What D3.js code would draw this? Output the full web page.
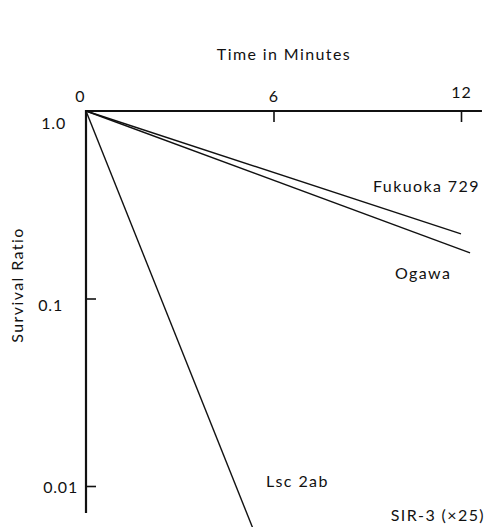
<!DOCTYPE html>
<meta charset="utf-8">
<style>
body { margin: 0; background: #fff; }
text { font-family: Lato, "Noto Sans", sans-serif; fill: #111; }
.axis path, .axis line { stroke: #111; }
.curve { fill: none; stroke: #111; stroke-width: 1.4px; }
</style>
<body>
<script src="https://cdn.jsdelivr.net/npm/d3@7"></script>
<script>
var width = 486, height = 527;

// survival data: time (min) vs survival ratio
var strains = ["Fukuoka 729", "Ogawa", "Lsc 2ab"];
var fukuoka = [[0, 1.0], [12.0, 0.221]];
var ogawa = [[0, 1.0], [12.29, 0.175]];
var lsc = [[0, 1.0], [5.33, 0.0060]];
var xTicks = [0, 6, 12];
var yTicks = [1.0, 0.1, 0.01];
var yTickLabels = ["1.0", "0.1", "0.01"];

var svg = d3.select("body").append("svg")
    .attr("width", width)
    .attr("height", height);

var x = d3.scaleLinear().domain([0, 12]).range([86, 461]);
var y = d3.scaleLog().domain([1, 0.01]).range([111, 486]);

var fs = 16, ls = 1.4;

// top axis (time)
var xAxis = svg.append("g")
    .attr("class", "axis")
    .attr("transform", "translate(0," + y(1) + ")")
    .call(d3.axisTop(x).tickValues(xTicks).tickSize(-11).tickPadding(9).tickSizeOuter(0)
      .tickFormat(d3.format("d")));
xAxis.select(".domain").remove();
xAxis.selectAll(".tick line").attr("stroke-width", 1.6)
    .filter(function(d) { return d === 0; }).remove();
xAxis.selectAll(".tick text")
    .attr("font-size", fs)
    .attr("letter-spacing", 1)
    .style("font-family", "Lato, 'Noto Sans', sans-serif");
xAxis.selectAll(".tick text").filter(function(d) { return d === 0; }).attr("dx", -6);
xAxis.selectAll(".tick text").filter(function(d) { return d === 12; }).attr("dy", -4);
xAxis.append("line")
    .attr("x1", x(0)).attr("x2", x(12.67))
    .attr("y1", 0).attr("y2", 0)
    .attr("stroke", "#111").attr("stroke-width", 2.2);

// left axis (survival ratio)
var labelShift = { "1": [-20, 11], "0.1": [-23, 6], "0.01": [-8, 0] };
var yAxis = svg.append("g")
    .attr("class", "axis")
    .attr("transform", "translate(" + x(0) + ",0)")
    .call(d3.axisLeft(y).tickValues(yTicks).tickSize(-10).tickPadding(0).tickSizeOuter(0)
      .tickFormat(function(d, i) { return yTickLabels[i]; }));
yAxis.select(".domain").remove();
yAxis.selectAll(".tick line").attr("stroke-width", 1.6)
    .filter(function(d) { return d === 1; }).remove();
yAxis.selectAll(".tick text")
    .attr("font-size", fs)
    .attr("letter-spacing", 0.8)
    .style("font-family", "Lato, 'Noto Sans', sans-serif")
    .attr("x", function(d) { return labelShift[String(d)][0]; })
    .attr("dy", function(d) { return (labelShift[String(d)][1] + 6) + "px"; });
yAxis.append("line")
    .attr("x1", 0).attr("x2", 0)
    .attr("y1", y(1) - 1).attr("y2", 513)
    .attr("stroke", "#111").attr("stroke-width", 2.2);

// curves
var line = d3.line()
    .x(function(d) { return x(d[0]); })
    .y(function(d) { return y(d[1]); });

[fukuoka, ogawa, lsc].forEach(function(s) {
  svg.append("path")
      .datum(s)
      .attr("class", "curve")
      .attr("d", line);
});

// labels
function label(t, px, py, anchor) {
  svg.append("text")
      .attr("x", px).attr("y", py)
      .attr("text-anchor", anchor || "start")
      .attr("font-size", fs)
      .attr("letter-spacing", ls)
      .text(t);
}
label(strains[0], 373, 192);
label(strains[1], 395, 279);
label(strains[2], 266, 487);
label("SIR-3 (\u00d725)", 485, 521, "end");

label("Time in Minutes", 284, 60, "middle");

svg.append("text")
    .attr("transform", "translate(23,285) rotate(-90)")
    .attr("text-anchor", "middle")
    .attr("font-size", fs)
    .attr("letter-spacing", ls)
    .text("Survival Ratio");
</script>
</body>
</html>
